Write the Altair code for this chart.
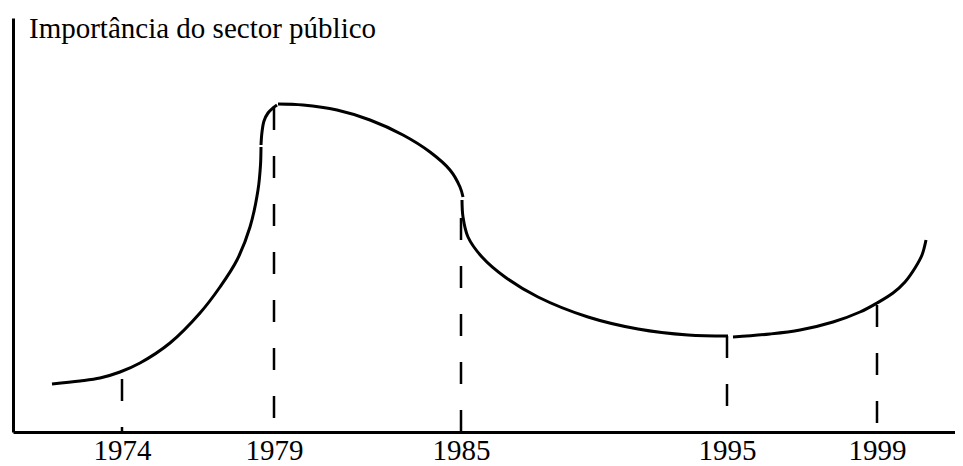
import altair as alt
import pandas as pd

titulo = "Importância do sector público"

# anos marcados no eixo horizontal (posição ao longo do eixo, em unidades do gráfico)
anos = ["1974", "1979", "1985", "1995", "1999"]
pos_anos = [109, 261, 448, 714, 864]
topo_anos = [53, 324, 240, 96, 127]
fase_anos = [0, 0, 22, 0, 0]

# troços da curva (x ao longo do tempo, y = importância)
seg_a_x = [39, 67, 87, 107, 127, 157, 187, 207, 224, 237, 245, 247.5, 248]
seg_a_y = [48, 51, 54, 60, 69, 89, 119, 145, 172, 205, 242, 267, 285]

seg_b_x = [248, 249, 251, 255, 260, 264]
seg_b_y = [287, 300, 311, 319, 324, 327]

seg_c_x = [265, 290, 324, 357, 390, 417, 437, 447, 450]
seg_c_y = [328, 327, 322, 312, 297, 280, 262, 245, 235]

seg_d_x = [449, 450, 455, 469, 492, 525, 575, 625, 675, 715]
seg_d_y = [232, 215, 195, 175, 155, 135, 115, 103, 97, 96]

seg_e_x = [720, 757, 787, 820, 847, 864, 880, 892, 902, 909, 913]
seg_e_y = [95, 98, 102, 110, 120, 129, 139, 150, 164, 177, 192]

X_MAX = 942
Y_MAX = 414
W, H = 942, 414

rows = []
for nome, xs, ys in [("A", seg_a_x, seg_a_y), ("B", seg_b_x, seg_b_y),
                     ("C", seg_c_x, seg_c_y), ("D", seg_d_x, seg_d_y),
                     ("E", seg_e_x, seg_e_y)]:
    for i, (xv, yv) in enumerate(zip(xs, ys)):
        rows.append({"seg": nome, "ordem": i, "x": xv, "y": yv})
curva = pd.DataFrame(rows)

marcas = pd.DataFrame({"ano": anos, "x": pos_anos, "topo": topo_anos,
                       "base": [0] * len(anos), "fase": fase_anos})

label_expr = "".join(f"datum.value == {p} ? '{a}' : " for p, a in zip(pos_anos, anos)) + "''"

FONT = "Liberation Serif"

x_scale = alt.Scale(domain=[0, X_MAX], nice=False, zero=False)
y_scale = alt.Scale(domain=[0, Y_MAX], nice=False, zero=False)

x_axis = alt.Axis(values=pos_anos, labelExpr=label_expr, ticks=False, tickSize=0,
                  grid=False, domain=True, domainColor="black", domainWidth=3,
                  labelFont=FONT, labelFontSize=29, labelColor="black",
                  labelBaseline="alphabetic", labelPadding=27, labelFlush=False,
                  labelOverlap=False, labelAngle=0, title=None)
y_axis = alt.Axis(labels=False, ticks=False, tickSize=0, grid=False, domain=True,
                  domainColor="black", domainWidth=3, title=None)

linha = alt.Chart(curva).mark_line(color="black", strokeWidth=3, interpolate="catmull-rom").encode(
    x=alt.X("x:Q", scale=x_scale, axis=x_axis),
    y=alt.Y("y:Q", scale=y_scale, axis=y_axis),
    detail="seg:N",
    order="ordem:Q",
)

camadas = [linha]
for fase in sorted(set(fase_anos)):
    camadas.append(
        alt.Chart(marcas).transform_filter(alt.datum.fase == fase)
        .mark_rule(color="black", strokeWidth=2.5, strokeDash=[22, 26], strokeDashOffset=fase)
        .encode(
            x=alt.X("x:Q", scale=x_scale, axis=x_axis),
            y=alt.Y("topo:Q", scale=y_scale, axis=y_axis),
            y2="base:Q",
        )
    )

texto = alt.Chart(pd.DataFrame({"t": [titulo]})).mark_text(
    font=FONT, fontSize=29, color="black", align="left", baseline="alphabetic"
).encode(text="t:N", x=alt.value(16), y=alt.value(20))
camadas.append(texto)

chart = alt.layer(*camadas).properties(
    width=W, height=H, autosize="none", background="white",
    padding={"left": 5, "top": 10, "right": 0, "bottom": 34},
).configure_view(stroke=None)

chart.save("out.html", embed_options={"renderer": "svg", "actions": False})
